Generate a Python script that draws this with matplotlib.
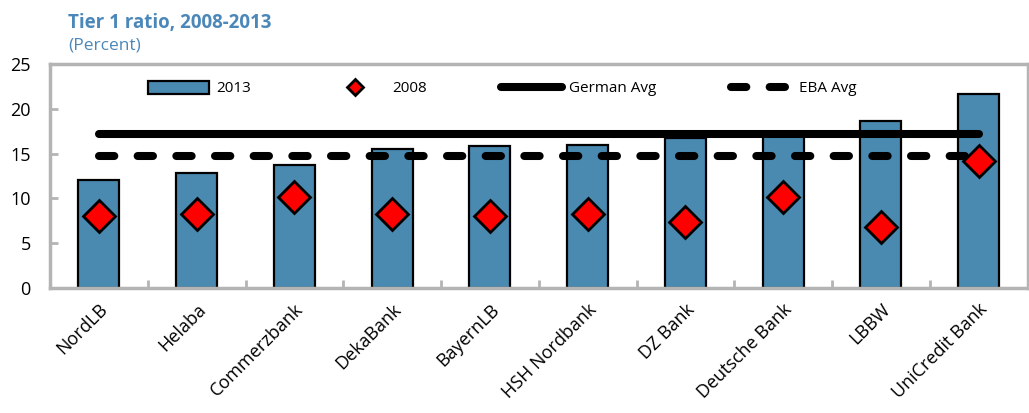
import matplotlib.pyplot as plt
import numpy as np
from matplotlib.lines import Line2D
from matplotlib.patches import Patch

banks = ["NordLB", "Helaba", "Commerzbank", "DekaBank", "BayernLB",
         "HSH Nordbank", "DZ Bank", "Deutsche Bank", "LBBW", "UniCredit Bank"]
tier1_2013 = [12.0, 12.8, 13.7, 15.5, 15.8, 16.0, 16.7, 17.2, 18.6, 21.6]
tier1_2008 = [8.0, 8.2, 10.1, 8.3, 8.0, 8.2, 7.3, 10.1, 6.8, 14.2]
german_avg = 17.2
eba_avg = 14.7

bar_color = "#4A8AB0"
title_color = "#4B87B8"
grey = "#B4B4B4"

plt.rcParams["font.family"] = ["Open Sans", "DejaVu Sans"]

fig = plt.figure(figsize=(10.29, 4.13), dpi=100)
ax = fig.add_axes([0.0486, 0.303, 0.95, 0.542])

x = np.arange(len(banks))
ax.bar(x, tier1_2013, width=0.42, color=bar_color, edgecolor="black", linewidth=1.6, zorder=2)
ax.plot(x, [german_avg] * len(x), color="black", lw=5.8, solid_capstyle="round", zorder=3)
ax.plot(x, [eba_avg] * len(x), color="black", lw=5.8, dashes=(1.9, 2.9),
        dash_capstyle="round", zorder=3)
ax.plot(x, tier1_2008, linestyle="none", marker="D", ms=16, mfc="red", mec="black",
        mew=2, zorder=4)

ax.set_xlim(-0.5, len(banks) - 0.5)
ax.set_ylim(0, 25)
ax.set_yticks(range(0, 26, 5))
ax.set_xticks(x)
ax.set_xticklabels(banks, rotation=45, ha="right", rotation_mode="anchor", fontsize=13)
ax.set_xticks(x[:-1] + 0.5, minor=True)
ax.tick_params(axis="x", which="major", length=0, pad=9)
ax.tick_params(axis="x", which="minor", direction="in", length=6, width=2, color=grey)
ax.tick_params(axis="y", direction="in", length=6, width=2, color=grey, labelsize=13, pad=14)
for s in ax.spines.values():
    s.set_color(grey)
    s.set_linewidth(2.5)

handles = [
    Patch(facecolor=bar_color, edgecolor="black", linewidth=1.6),
    Line2D([], [], linestyle="none", marker="D", ms=8, mfc="red", mec="black", mew=2),
    Line2D([], [], color="black", lw=5.8, solid_capstyle="round"),
    Line2D([], [], color="black", lw=5.8, dashes=(1.9, 2.9), dash_capstyle="round"),
]
ax.legend(handles, ["2013", "2008", "German Avg", "EBA Avg"], ncol=4, frameon=False,
          loc="center left", bbox_to_anchor=(0.086, 0.89), fontsize=11,
          handlelength=4.0, handleheight=0.9, columnspacing=4.85, handletextpad=0.45)

fig.text(0.066, 0.945, "Tier 1 ratio, 2008-2013", color=title_color, fontsize=13.5,
         fontweight="bold", va="center")
fig.text(0.066, 0.89, "(Percent)", color=title_color, fontsize=12.5, va="center")

fig.savefig("out.png", dpi=100)
